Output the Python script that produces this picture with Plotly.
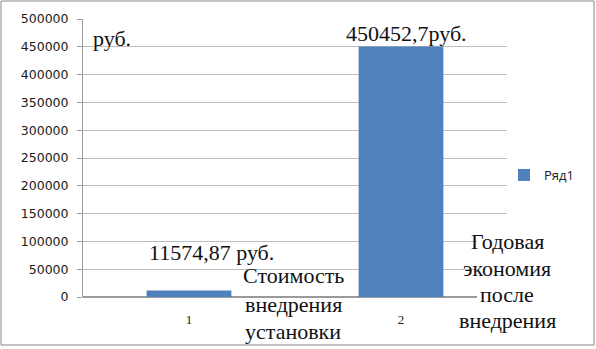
import plotly.graph_objects as go

categories = ["1", "2"]
values = [11574.87, 450452.7]
series_name = "Ряд1"
value_labels = ["11574,87 руб.", "450452,7руб."]
unit_label = "руб."
note_1_lines = ["Стоимость", "внедрения", "установки"]
note_2_lines = ["Годовая", "экономия", "после", "внедрения"]
y_ticks = [0, 50000, 100000, 150000, 200000, 250000, 300000, 350000, 400000, 450000, 500000]

W, H = 596, 349
L, T, B = 83, 19, 52
PLOT_RIGHT = 507
pw_paper = W - L            # paper width (right margin 0)
ph = H - T - B

def px(x):
    return (x - L) / pw_paper

def py(y):
    return (H - B - y) / ph

serif = "Liberation Serif, Times New Roman, serif"
sans = "Open Sans, sans-serif"
txt_col = "#111111"

fig = go.Figure()
fig.add_trace(go.Bar(x=categories, y=values, name=series_name, marker_color="#4F81BD",
                     marker_line_width=0))

fig.update_layout(
    width=W, height=H,
    margin=dict(l=L, r=0, t=T, b=B, pad=0),
    paper_bgcolor="white", plot_bgcolor="white",
    bargap=0.6,
    showlegend=True,
    legend=dict(x=px(504), y=py(175), xanchor="left", yanchor="middle",
                font=dict(family=sans, size=13, color="#222"),
                itemwidth=30, bgcolor="rgba(0,0,0,0)"),
    xaxis=dict(type="category", domain=[0, px(PLOT_RIGHT)],
               range=[-0.5, len(categories) - 0.5], autorange=False,
               showgrid=False, showline=False, ticks="",
               tickfont=dict(family=serif, size=13, color="#222"), ticklabelstandoff=13),
    yaxis=dict(range=[0, 500000], autorange=False, tickvals=y_ticks,
               ticktext=[str(v) for v in y_ticks],
               showgrid=True, gridcolor="#BEBEBE", gridwidth=1,
               showline=True, linecolor="#9A9A9A", ticks="outside", ticklen=5,
               tickcolor="#9A9A9A", zeroline=True, zerolinecolor="#9A9A9A",
               tickfont=dict(family="DejaVu Sans, sans-serif", size=12.5, color="#1a1a1a"),
               ticklabelstandoff=6),
)

# outer chart border
fig.add_shape(type="rect", xref="paper", yref="paper",
              x0=px(1), x1=px(594), y0=py(345), y1=py(1),
              line=dict(color="#868686", width=1), fillcolor="rgba(0,0,0,0)")
# white text-box fill behind the right-hand note (hides gridline ends)
fig.add_shape(type="rect", xref="paper", yref="paper", layer="above",
              x0=px(477), x1=px(508), y0=py(300), y1=py(228),
              line=dict(width=0), fillcolor="white")

# value labels (anchored to bars by category index)
fig.add_annotation(x=1, y=values[1], text=value_labels[1], showarrow=False,
                   yanchor="bottom", xshift=5, yshift=-1,
                   font=dict(family=serif, size=22, color=txt_col))
fig.add_annotation(x=0, y=values[0], text=value_labels[0], showarrow=False,
                   yanchor="middle", xshift=22, yshift=38,
                   font=dict(family=serif, size=22, color=txt_col))
fig.add_annotation(xref="paper", yref="paper", x=px(91), y=py(38), text=unit_label,
                   showarrow=False, xanchor="left", yanchor="middle",
                   font=dict(family=serif, size=22, color=txt_col))

# category notes, line by line
note_1_y = [275, 304, 331]
for line, yy in zip(note_1_lines, note_1_y):
    fig.add_annotation(xref="paper", yref="paper", x=px(293), y=py(yy), text=line,
                       showarrow=False, xanchor="center", yanchor="middle",
                       font=dict(family=serif, size=22, color=txt_col))
note_2_y = [241, 268, 294, 320]
for line, yy in zip(note_2_lines, note_2_y):
    fig.add_annotation(xref="paper", yref="paper", x=px(507), y=py(yy), text=line,
                       showarrow=False, xanchor="center", yanchor="middle",
                       font=dict(family=serif, size=22, color=txt_col))

fig.write_html("out.html")
